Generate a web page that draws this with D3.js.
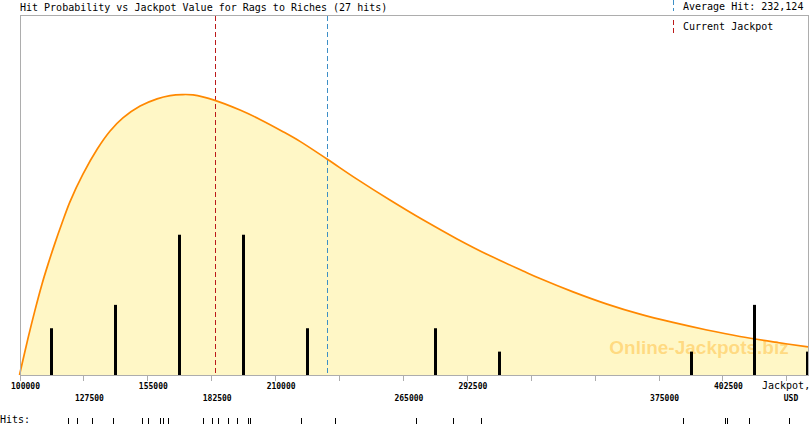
<!DOCTYPE html>
<html><head><meta charset="utf-8">
<script src="https://cdn.jsdelivr.net/npm/d3@7"></script>
<style>
html,body{margin:0;padding:0;background:#fff;}
svg{display:block;}
</style></head>
<body>
<svg id="chart" width="810" height="425"></svg>
<script>
// ---- data ----
const titleText = "Hit Probability vs Jackpot Value for Rags to Riches (27 hits)";
const averageHit = 232124;
const currentJackpot = 184100;
// individual hit values (USD), read from the "Hits:" rug
const hits = [121000,124900,131300,140100,152600,155200,160500,161900,161900,164000,
  179100,183000,185600,189600,193500,198500,199200,221000,235900,270500,286700,298500,
  385700,403600,404400,414100,431300];
// density curve samples: jackpot (USD) and relative probability
const curveJackpot = [100000,103700,106700,109700,112300,115300,118300,121700,127300,133400,
  138900,144500,151900,159200,164800,170000,174700,184100,194900,203500,213400,220700,
  232300,245200,259400,273600,288300,302500,316700,324000,338200,352800,367000,381200,
  395800,410000,424300,439300];
const curveProb = [0,0.103,0.181,0.253,0.308,0.367,0.422,0.481,0.558,0.627,
  0.677,0.714,0.747,0.767,0.776,0.779,0.778,0.763,0.736,0.710,0.676,0.649,
  0.600,0.544,0.486,0.431,0.378,0.331,0.289,0.268,0.231,0.197,0.169,0.146,
  0.125,0.107,0.092,0.078];
const binThresholds = [100000,127500,155000,182500,210000,237500,265000,292500,320000,347500,375000,402500,430000,457500];
const tickValues = [100000,127500,155000,182500,210000,237500,265000,292500,320000,347500,375000,402500,430000];
const labelsRow1 = [100000,155000,210000,292500,402500];
const labelsRow2 = [127500,182500,265000,375000];

// ---- layout ----
const svg = d3.select("#chart");
const L = 20, R = 808, T = 15, B = 375;
const x = d3.scaleLinear().domain([100000, 439300]).range([19.5, 808]);
const yP = d3.scaleLinear().domain([0, 1]).range([B, T]);
const yC = d3.scaleLinear().domain([0, 15.4]).range([B, T]);
const mono = "'DejaVu Sans Mono', monospace";

// fill area
const pts = curveJackpot.map((v,i)=>[v, curveProb[i]]);
const crv = d3.curveCatmullRom.alpha(0.5);
const area = d3.area().x(d=>x(d[0])).y0(B).y1(d=>yP(d[1])).curve(crv);
const line = d3.line().x(d=>x(d[0])).y(d=>yP(d[1])).curve(crv);
svg.append("path").attr("d", area(pts)).attr("fill", "#FFF7C6");

// watermark
svg.append("text").attr("x", 699).attr("y", 354).attr("text-anchor","middle")
  .attr("font-family","'Liberation Sans', Arial, sans-serif").attr("font-weight","bold")
  .attr("font-size", 19).attr("fill", "#FFA500").attr("fill-opacity", 0.36)
  .text("Online-Jackpots.biz");

// reference lines
function vline(v, color){
  const xx = Math.round(x(v)) + 0.5;
  svg.append("line").attr("x1", xx).attr("x2", xx).attr("y1", T+1).attr("y2", B)
    .attr("stroke", color).attr("stroke-width", 1).attr("stroke-dasharray","5,3")
    .attr("shape-rendering","crispEdges");
}
vline(currentJackpot, "#BB1A1A");
vline(averageHit, "#3D8FC6");

// curve
svg.append("path").attr("d", line(pts)).attr("fill","none")
  .attr("stroke","#FF8800").attr("stroke-width", 1.7);

// histogram bars
const bins = d3.bin().domain([binThresholds[0], binThresholds[binThresholds.length-1]])
  .thresholds(binThresholds.slice(1,-1))(hits);
svg.append("g").selectAll("rect").data(bins.filter(b=>b.length>0)).join("rect")
  .attr("x", b => Math.min(Math.round(x((b.x0+b.x1)/2)) - 1, R - 2))
  .attr("width", 3)
  .attr("y", b => yC(b.length))
  .attr("height", b => B - yC(b.length))
  .attr("fill", "#000");

// frame
const frameColor = "#ADADAD";
svg.append("path").attr("d", `M${L+0.5},${B+0.5}V${T+0.5}H${R+0.5}V${B+0.5}`)
  .attr("fill","none").attr("stroke", frameColor).attr("shape-rendering","crispEdges");
svg.append("line").attr("x1", L).attr("x2", R+1).attr("y1", B+0.5).attr("y2", B+0.5)
  .attr("stroke", frameColor).attr("shape-rendering","crispEdges");

// ticks
svg.append("g").selectAll("line").data(tickValues).join("line")
  .attr("x1", d=>Math.round(x(d))+0.5).attr("x2", d=>Math.round(x(d))+0.5)
  .attr("y1", B).attr("y2", B+6)
  .attr("stroke", frameColor).attr("shape-rendering","crispEdges");

// tick labels
function labels(vals, yy){
  svg.append("g").selectAll("text").data(vals).join("text")
    .attr("x", d=>x(d)+6).attr("y", yy).attr("text-anchor","middle")
    .attr("font-family", mono).attr("font-weight","bold").attr("font-size", 8)
    .attr("fill","#000").text(d=>d);
}
labels(labelsRow1, 389);
labels(labelsRow2, 401);
svg.append("text").attr("x", 762).attr("y", 389).attr("font-family", mono)
  .attr("font-size", 10).attr("fill","#000").text("Jackpot,");
svg.append("text").attr("x", 791).attr("y", 401).attr("text-anchor","middle").attr("font-family", mono)
  .attr("font-weight","bold").attr("font-size", 8).attr("fill","#000").text("USD");

// title
svg.append("text").attr("x", 20).attr("y", 11).attr("font-family", mono)
  .attr("font-size", 10).attr("fill","#000").text(titleText);

// legend
const lx = 673.5;
svg.append("line").attr("x1", lx).attr("x2", lx).attr("y1", 0).attr("y2", 11)
  .attr("stroke","#3D8FC6").attr("stroke-dasharray","5,3").attr("shape-rendering","crispEdges");
svg.append("line").attr("x1", lx).attr("x2", lx).attr("y1", 20).attr("y2", 34)
  .attr("stroke","#BB1A1A").attr("stroke-dasharray","5,3").attr("shape-rendering","crispEdges");
svg.append("text").attr("x", 683).attr("y", 10).attr("font-family", mono)
  .attr("font-size", 10).attr("fill","#000").text("Average Hit: " + d3.format(",")(averageHit));
svg.append("text").attr("x", 683).attr("y", 30).attr("font-family", mono)
  .attr("font-size", 10).attr("fill","#000").text("Current Jackpot");

// hits rug
svg.append("text").attr("x", 0).attr("y", 423).attr("font-family", mono)
  .attr("font-size", 10).attr("fill","#000").text("Hits:");
svg.append("g").selectAll("line").data(hits).join("line")
  .attr("x1", d=>Math.round(x(d))+0.5).attr("x2", d=>Math.round(x(d))+0.5)
  .attr("y1", 418).attr("y2", 424)
  .attr("stroke","#000").attr("shape-rendering","crispEdges");
</script>
</body></html>
